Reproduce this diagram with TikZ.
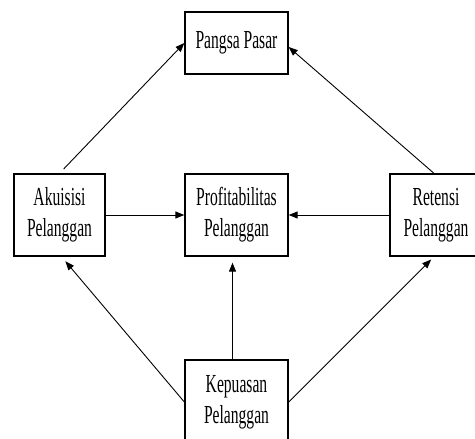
\documentclass[tikz,border=0pt]{standalone}
\usepackage{fontspec}
\setmainfont{Liberation Serif}[FakeStretch=0.6]
\usetikzlibrary{arrows.meta}
\tikzset{
  box/.style={draw=black, line width=1.3pt, inner sep=0pt, align=center,
    font=\fontsize{26}{31}\selectfont},
  arr/.style={draw=black, line width=0.9pt, -{Triangle[length=9pt,width=7pt]}}
}
\begin{document}
\begin{tikzpicture}[x=1pt,y=-1pt]
\useasboundingbox (0,0) rectangle (475,439);
\clip (0,0) rectangle (475,439);
\node[box, minimum width=103pt, minimum height=62pt] (pangsa) at (236.5,43) {Pangsa Pasar};
\node[box, minimum width=91pt, minimum height=82pt] (akuisisi) at (59.5,215) {Akuisisi\\Pelanggan};
\node[box, minimum width=103pt, minimum height=82pt] (profit) at (236.5,215) {Profitabilitas\\Pelanggan};
\node[box, minimum width=92pt, minimum height=82pt] (retensi) at (436,215) {Retensi\\Pelanggan};
\node[box, minimum width=103pt, minimum height=84pt] (kepuasan) at (236.5,402) {Kepuasan\\Pelanggan};
\draw[arr, shorten <=6pt] (akuisisi.north) -- (pangsa.west);
\draw[arr] ([xshift=-2pt]retensi.north) -- ([yshift=-4pt]pangsa.east);
\draw[arr] (akuisisi.east) -- (profit.west);
\draw[arr] (retensi.west) -- (profit.east);
\draw[arr, shorten >=6pt] ([xshift=-4pt]kepuasan.north) -- ([xshift=-4pt]profit.south);
\draw[arr, shorten >=6pt] (kepuasan.west) -- ([xshift=2pt]akuisisi.south);
\draw[arr, shorten >=4pt] (kepuasan.east) -- ([xshift=-2pt]retensi.south);
\end{tikzpicture}
\end{document}
